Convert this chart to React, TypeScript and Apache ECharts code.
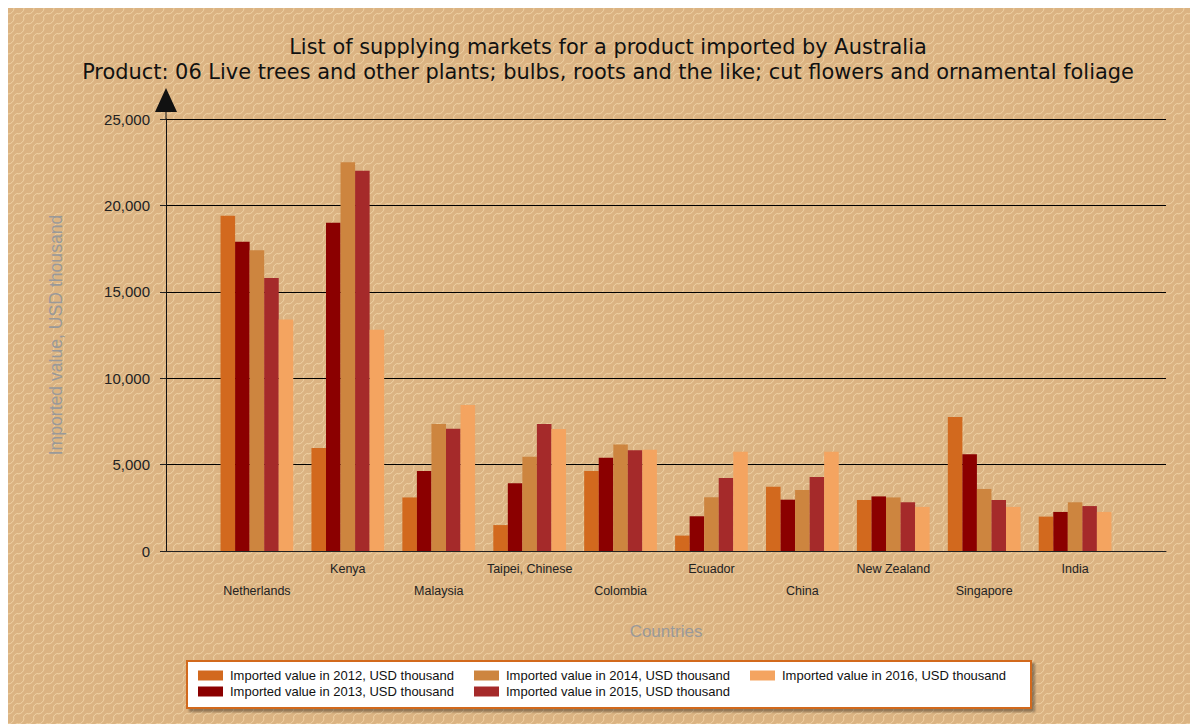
import React, { useEffect, useRef } from 'react';
import * as echarts from 'echarts';

const titleLines = [
  'List of supplying markets for a product imported by Australia',
  'Product: 06 Live trees and other plants; bulbs, roots and the like; cut flowers and ornamental foliage',
];
const countries = ['Netherlands', 'Kenya', 'Malaysia', 'Taipei, Chinese', 'Colombia', 'Ecuador', 'China', 'New Zealand', 'Singapore', 'India'];
const seriesNames = [
  'Imported value in 2012, USD thousand',
  'Imported value in 2013, USD thousand',
  'Imported value in 2014, USD thousand',
  'Imported value in 2015, USD thousand',
  'Imported value in 2016, USD thousand',
];
const v2012 = [19400, 5960, 3100, 1500, 4630, 890, 3720, 2950, 7750, 1990];
const v2013 = [17900, 19000, 4630, 3920, 5400, 2010, 2970, 3160, 5600, 2260];
const v2014 = [17400, 22500, 7350, 5460, 6170, 3110, 3530, 3100, 3590, 2820];
const v2015 = [15800, 22000, 7080, 7350, 5830, 4220, 4280, 2820, 2950, 2600];
const v2016 = [13400, 12800, 8450, 7060, 5860, 5750, 5750, 2550, 2550, 2260];
const seriesValues = [v2012, v2013, v2014, v2015, v2016];
const colors = ['#D2691E', '#8B0000', '#CD853F', '#A52A2A', '#F4A460'];
const yMin = 0;
const yMax = 25000;
const yInterval = 5000;
const yAxisTitle = 'Imported value, USD thousand';
const xAxisTitle = 'Countries';
const legendOrder = [0, 2, 4, 1, 3];

function makePattern(): HTMLCanvasElement {
  const c = document.createElement('canvas');
  c.width = 10;
  c.height = 10;
  const ctx = c.getContext('2d')!;
  ctx.fillStyle = '#DBB382';
  ctx.fillRect(0, 0, 10, 10);
  ctx.strokeStyle = '#EFD3A6';
  ctx.lineWidth = 1;
  ctx.beginPath();
  ctx.arc(0, 0, 6, 0, Math.PI / 2);
  ctx.stroke();
  ctx.beginPath();
  ctx.arc(10, 10, 4.5, Math.PI, Math.PI * 1.5);
  ctx.stroke();
  return c;
}

export default function App() {
  const ref = useRef<HTMLDivElement>(null);
  useEffect(() => {
    if (!ref.current) return;
    const chart = echarts.init(ref.current, undefined, { renderer: 'svg' });
    const cats = ['', ...countries, ''];
    let pattern: any = '#DEB887';
    try {
      pattern = { image: makePattern(), repeat: 'repeat', imageWidth: 10, imageHeight: 10 };
    } catch (e) {
      pattern = '#DEB887';
    }
    const option: any = {
      animation: false,
      backgroundColor: '#DEB887',
      graphic: [
        {
          type: 'rect',
          silent: true,
          z: -10,
          left: 0,
          top: 0,
          shape: { width: 1190, height: 716 },
          style: { fill: pattern },
        },
      ],
      title: {
        text: titleLines.join('\n'),
        left: 600,
        top: 26,
        textAlign: 'center',
        padding: 0,
        textStyle: {
          fontFamily: 'DejaVu Sans',
          fontSize: 20.9,
          fontWeight: 'normal',
          lineHeight: 25,
          color: '#111',
        },
      },
      grid: { left: 158, right: 32, top: 111, bottom: 173, containLabel: false },
      legend: {
        left: 179,
        top: 653,
        width: 830,
        orient: 'horizontal',
        data: legendOrder.map((i) => seriesNames[i]),
        icon: 'rect',
        itemWidth: 25,
        itemHeight: 10,
        itemGap: 3,
        padding: [8, 8, 10, 11],
        backgroundColor: '#ffffff',
        borderColor: '#D2691E',
        borderWidth: 2,
        borderRadius: 0,
        shadowColor: 'rgba(0,0,0,0.35)',
        shadowBlur: 2,
        shadowOffsetX: 3,
        shadowOffsetY: 3,
        textStyle: {
          fontFamily: 'Liberation Sans',
          fontSize: 13,
          color: '#111',
          width: 241,
          lineHeight: 11,
          padding: [0, 0, 0, 2],
        },
      },
      xAxis: {
        type: 'category',
        data: cats,
        boundaryGap: false,
        name: xAxisTitle,
        nameLocation: 'middle',
        nameGap: 72,
        nameTextStyle: { fontFamily: 'Liberation Sans', fontSize: 17, color: '#999' },
        axisLine: { show: true, lineStyle: { color: '#222', width: 1 } },
        axisTick: { show: false },
        splitLine: { show: false },
        axisLabel: {
          interval: 0,
          hideOverlap: false,
          margin: 7,
          fontFamily: 'Liberation Sans',
          fontSize: 12.5,
          lineHeight: 22,
          color: '#222',
          formatter: (value: string, index: number) => {
            if (!value) return '';
            const k = index - 1;
            return k % 2 === 0 ? '\n' + value : value;
          },
        },
      },
      yAxis: {
        type: 'value',
        min: yMin,
        max: yMax,
        interval: yInterval,
        name: yAxisTitle,
        nameLocation: 'middle',
        nameGap: 101,
        nameTextStyle: { fontFamily: 'Liberation Sans', fontSize: 17.6, color: '#999' },
        axisLine: {
          show: true,
          lineStyle: { color: '#111', width: 1 },
          symbol: ['none', 'path://M11,0 L22,24 L11.5,24 L11.5,31 L10.5,31 L10.5,24 L0,24 Z'],
          symbolSize: [22, 31],
          symbolOffset: [0, 15.5],
        },
        axisTick: { show: true, length: 6, lineStyle: { color: '#222' } },
        splitLine: { show: true, lineStyle: { color: '#000', width: 1 } },
        axisLabel: {
          margin: 16,
          fontFamily: 'Liberation Sans',
          fontSize: 15,
          color: '#222',
          formatter: (v: number) => v.toLocaleString('en-US'),
        },
      },
      series: seriesNames.map((name, i) => ({
        name,
        type: 'bar',
        data: [null, ...seriesValues[i], null],
        barGap: '0%',
        barCategoryGap: '20%',
        itemStyle: { color: colors[i] },
      })),
    };
    chart.setOption(option);
    return () => chart.dispose();
  }, []);
  return <div ref={ref} style={{ width: 1190, height: 716 }} />;
}
